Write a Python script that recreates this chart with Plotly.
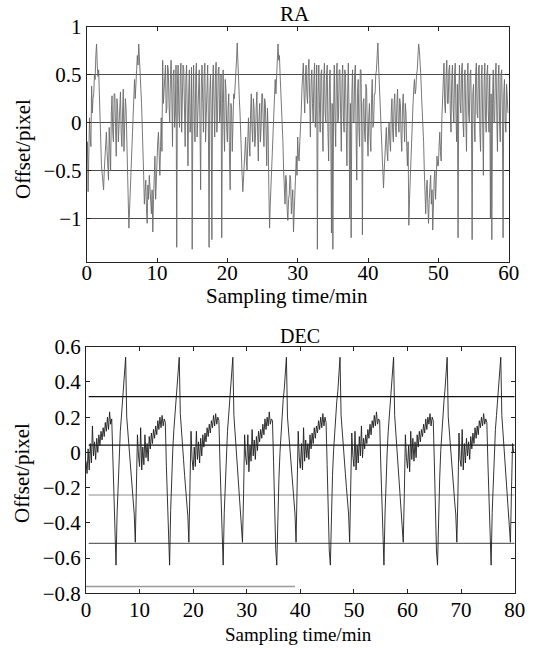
import plotly.graph_objects as go

# ---------------- data ----------------
ra_step_min = 0.1
ra_offset = [
    -0.4, -0.2, -0.72, -0.3, 0.05, -0.15, -0.25, 0.38, 0.1, 0.25,
    0.3, 0.5, 0.45, 0.7, 0.82, 0.6, 0.48, 0.55, 0.2, -0.1,
    -0.2, -0.45, -0.55, -0.65, -0.7, -0.5, -0.35, -0.2, -0.1, -0.3,
    -0.45, -0.6, -0.05, -0.25, -0.5, 0.1, 0.28, -0.1, -0.2, 0.3,
    0.3, -0.05, -0.35, 0.25, 0.15, -0.2, -0.05, 0.2, 0.32, -0.1,
    -0.25, 0.1, 0.35, -0.3, -0.1, 0.25, 0.15, -0.2, -0.6, -0.9,
    -1.1, -0.9, -0.7, -0.45, -0.25, -0.05, 0.15, 0.3, 0.45, 0.25,
    0.35, 0.55, 0.7, 0.6, 0.82, 0.7, 0.55, 0.35, 0.2, 0.0,
    -0.25, -0.55, -0.85, -0.7, -0.6, -0.9, -1.05, -0.65, -0.8, -0.55,
    -0.65, -0.85, -0.95, -0.7, -1.14, -0.8, -0.5, -0.35, -0.8, -0.55,
    -0.45, -0.2, -0.1, -0.4, -0.55, -0.25, 0.05, -0.3, 0.65, 0.2,
    0.35, 0.55, 0.6, 0.1, 0.15, 0.6, 0.55, 0.2, 0.0, 0.45,
    0.65, 0.3, -0.25, 0.5, 0.55, -0.05, 0.1, 0.6, -1.3, 0.4,
    0.6, 0.1, -0.05, 0.5, 0.62, -0.1, 0.2, 0.6, 0.55, 0.0,
    -0.25, 0.45, 0.6, 0.1, -0.45, 0.3, 0.55, -0.1, 0.0, 0.58,
    -1.32, 0.2, 0.6, 0.0, -0.2, 0.5, 0.62, -0.15, 0.1, 0.45,
    0.55, 0.0, -0.7, 0.4, 0.6, 0.2, -0.1, 0.5, 0.62, -0.2,
    0.1, 0.55, 0.6, 0.0, -1.3, 0.3, 0.5, 0.1, -1.22, 0.4,
    0.6, 0.2, -0.15, 0.5, 0.63, -0.1, 0.05, 0.55, 0.58, 0.0,
    0.1, 0.5, -1.2, 0.2, 0.55, 0.0, -0.3, 0.45, 0.35, -0.05,
    -0.2, 0.15, 0.3, -0.35, -0.7, 0.2, 0.15, -0.3, -0.1, 0.3,
    0.25, 0.45, 0.5, 0.65, 0.83, 0.55, 0.4, 0.25, 0.1, -0.2,
    -0.3, -0.55, -0.72, -0.6, -0.45, -0.25, -0.15, -0.4, -0.5, -0.2,
    0.05, -0.2, -0.35, 0.1, 0.3, -0.05, -0.2, 0.25, 0.15, -0.25,
    -0.15, 0.15, 0.32, -0.1, -0.4, 0.05, 0.2, -0.2, -0.05, 0.3,
    0.3, 0.0, -0.25, 0.25, 0.2, -0.1, -0.45, 0.15, -0.1, -0.7,
    -1.1, -0.85, -0.65, -0.4, -0.2, 0.0, 0.2, 0.35, 0.45, 0.3,
    0.55, 0.7, 0.82, 0.65, 0.7, 0.5, 0.35, 0.2, 0.05, -0.2,
    -0.5, -0.7, -0.85, -0.55, -0.6, -0.9, -1.02, -0.8, -0.75, -0.55,
    -0.6, -0.95, -0.85, -0.7, -1.14, -0.9, -0.7, -0.5, -0.35, -0.55,
    -0.15, -0.35, -0.4, -0.2, -0.1, 0.1, 0.35, 0.5, 0.62, 0.3,
    0.1, 0.5, 0.6, 0.3, 0.2, 0.55, 0.66, 0.25, -0.15, 0.4,
    0.55, 0.2, 0.0, 0.45, 0.62, -0.05, 0.1, 0.6, -1.32, 0.3,
    0.6, 0.15, -0.1, 0.5, 0.55, 0.0, -0.3, 0.45, 0.62, 0.1,
    0.0, 0.5, 0.6, -0.1, -0.4, 0.35, 0.55, 0.0, -1.15, 0.2,
    -1.32, 0.1, 0.6, 0.05, -0.25, 0.5, 0.62, 0.0, 0.05, 0.55,
    0.55, 0.1, -0.3, 0.45, 0.6, 0.05, -0.1, 0.55, 0.5, -0.05,
    -0.45, 0.3, 0.62, 0.1, -1.0, 0.2, -1.2, 0.3, 0.55, 0.0,
    0.0, 0.5, 0.6, -0.1, -0.6, 0.3, 0.45, -0.05, -0.25, 0.55,
    0.55, 0.0, -1.17, 0.2, 0.25, -0.1, -0.2, 0.4, 0.35, -0.1,
    -0.35, 0.05, 0.2, -0.15, -0.3, 0.25, 0.45, -0.05, 0.0, 0.3,
    0.3, 0.5, 0.55, 0.7, 0.83, 0.6, 0.4, 0.25, 0.05, -0.2,
    -0.45, -0.6, -0.68, -0.5, -0.35, -0.15, -0.05, -0.3, -0.4, -0.1,
    0.0, -0.2, -0.3, 0.1, 0.25, -0.1, -0.2, 0.2, 0.3, -0.05,
    -0.15, 0.2, 0.35, 0.0, -0.1, 0.25, 0.2, -0.15, -0.3, 0.15,
    0.3, 0.05, -0.2, 0.2, 0.1, -0.25, -0.45, -0.2, -1.07, -0.8,
    -0.55, -0.35, -0.2, 0.0, 0.2, 0.35, 0.45, 0.3, 0.35, 0.5,
    0.55, 0.7, 0.82, 0.75, 0.65, 0.5, 0.3, 0.15, 0.05, -0.2,
    -0.5, -0.75, -0.95, -0.7, -0.6, -0.85, -1.05, -0.8, -0.7, -0.55,
    -0.85, -0.7, -1.12, -0.8, -0.6, -0.5, -0.8, -0.6, -0.35, -0.45,
    -0.45, -0.25, -0.1, -0.3, -0.4, 0.05, 0.3, 0.5, 0.62, 0.2,
    0.1, 0.5, 0.65, 0.2, 0.2, 0.55, 0.6, 0.1, -0.1, 0.45,
    0.6, 0.15, 0.0, 0.5, 0.62, 0.1, -0.2, 0.4, -1.2, 0.3,
    0.6, 0.2, 0.1, 0.55, 0.62, 0.0, -0.15, 0.5, 0.55, 0.05,
    -0.3, 0.4, 0.62, 0.1, 0.0, 0.5, 0.55, 0.1, -1.22, 0.3,
    0.4, 0.0, -0.2, 0.5, 0.62, 0.1, 0.05, 0.55, 0.6, -0.1,
    -0.3, 0.45, 0.6, 0.0, -0.55, 0.4, 0.62, 0.05, -0.1, 0.5,
    0.6, 0.1, -0.1, 0.5, -1.0, 0.3, -1.22, 0.2, 0.55, 0.0,
    0.0, 0.5, 0.62, 0.1, -0.3, 0.45, 0.6, 0.0, -0.2, 0.5,
    0.55, 0.1, -1.2, 0.3, 0.45, 0.0, -0.1, 0.4, 0.3, 0.1,
]

dec_step_min = 0.2
dec_offset = [
    # 0-10 min
    -0.05, -0.12, 0.02, -0.1, 0.05, -0.06, 0.15, -0.02, 0.06, -0.04,
    0.08, 0.0, 0.1, 0.04, 0.12, 0.07, 0.14, 0.09, 0.17, 0.12,
    0.2, 0.13, 0.23, 0.16, 0.19, -0.05, -0.3, -0.55, -0.64, -0.35,
    -0.15, 0.0, 0.12, 0.2, 0.3, 0.35, 0.45, 0.54, 0.2, 0.12,
    0.05, -0.05, -0.12, -0.2, -0.28, -0.35, -0.51, -0.25, 0.1, -0.02,
    # 10-20 min
    -0.08, 0.14, -0.1, 0.03, -0.07, 0.1, -0.03, 0.05, -0.05, 0.09,
    0.02, 0.11, 0.05, 0.13, 0.08, 0.15, 0.1, 0.18, 0.13, 0.2,
    0.14, 0.21, 0.15, 0.19, 0.17, -0.08, -0.32, -0.55, -0.64, -0.33,
    -0.12, 0.02, 0.13, 0.21, 0.29, 0.36, 0.46, 0.54, 0.22, 0.11,
    0.04, -0.04, -0.13, -0.21, -0.29, -0.36, -0.51, -0.22, 0.12, -0.04,
    # 20-30 min
    -0.1, 0.03, -0.08, 0.12, -0.04, 0.06, -0.06, 0.08, -0.02, 0.1,
    0.03, 0.11, 0.06, 0.14, 0.09, 0.16, 0.11, 0.18, 0.14, 0.21,
    0.15, 0.22, 0.16, 0.2, 0.18, -0.06, -0.3, -0.56, -0.64, -0.34,
    -0.14, 0.01, 0.12, 0.2, 0.3, 0.35, 0.47, 0.54, 0.21, 0.12,
    0.05, -0.05, -0.12, -0.2, -0.28, -0.36, -0.51, -0.24, 0.1, -0.03,
    # 30-40 min
    -0.07, 0.1, -0.11, 0.04, -0.05, 0.13, -0.02, 0.07, -0.04, 0.09,
    0.01, 0.12, 0.06, 0.13, 0.08, 0.16, 0.1, 0.19, 0.13, 0.2,
    0.15, 0.23, 0.16, 0.19, 0.18, -0.05, -0.31, -0.55, -0.64, -0.36,
    -0.15, 0.0, 0.11, 0.21, 0.3, 0.36, 0.46, 0.54, 0.2, 0.12,
    0.04, -0.05, -0.12, -0.21, -0.28, -0.35, -0.51, -0.25, 0.12, -0.03,
    # 40-50 min
    -0.09, 0.05, -0.1, 0.14, -0.05, 0.07, -0.03, 0.05, -0.04, 0.1,
    0.02, 0.11, 0.05, 0.14, 0.08, 0.15, 0.11, 0.18, 0.13, 0.2,
    0.14, 0.22, 0.15, 0.2, 0.17, -0.07, -0.32, -0.56, -0.64, -0.34,
    -0.13, 0.01, 0.13, 0.2, 0.29, 0.35, 0.46, 0.54, 0.21, 0.11,
    0.05, -0.04, -0.12, -0.2, -0.29, -0.35, -0.51, -0.23, 0.11, -0.02,
    # 50-60 min
    -0.08, 0.12, -0.1, 0.04, -0.06, 0.09, -0.02, 0.15, -0.03, 0.08,
    0.02, 0.1, 0.05, 0.13, 0.08, 0.16, 0.1, 0.18, 0.14, 0.21,
    0.15, 0.23, 0.16, 0.19, 0.18, -0.06, -0.3, -0.55, -0.64, -0.35,
    -0.14, 0.0, 0.12, 0.21, 0.3, 0.35, 0.45, 0.54, 0.21, 0.12,
    0.05, -0.05, -0.13, -0.2, -0.28, -0.36, -0.51, -0.24, 0.1, -0.03,
    # 60-70 min
    -0.09, 0.04, -0.11, 0.12, -0.04, 0.08, -0.05, 0.06, -0.03, 0.1,
    0.03, 0.12, 0.06, 0.13, 0.09, 0.16, 0.11, 0.19, 0.13, 0.2,
    0.16, 0.22, 0.15, 0.2, 0.18, -0.05, -0.31, -0.56, -0.64, -0.33,
    -0.15, 0.01, 0.12, 0.2, 0.29, 0.36, 0.46, 0.54, 0.2, 0.11,
    0.04, -0.05, -0.12, -0.21, -0.28, -0.35, -0.51, -0.25, 0.11, -0.04,
    # 70-80 min
    -0.08, 0.13, -0.1, 0.05, -0.06, 0.08, -0.02, 0.06, -0.04, 0.09,
    0.02, 0.11, 0.05, 0.14, 0.08, 0.15, 0.1, 0.18, 0.14, 0.2,
    0.15, 0.22, 0.16, 0.19, 0.17, -0.06, -0.3, -0.55, -0.64, -0.34,
    -0.14, 0.0, 0.13, 0.21, 0.3, 0.35, 0.46, 0.54, 0.21, 0.12,
    0.05, -0.04, -0.12, -0.2, -0.29, -0.36, -0.51, -0.22, 0.05, 0.0,
]

dec_levels = [0.317, 0.041, -0.242, -0.516]
dec_level_colors = ["#111111", "#111111", "#8c8c8c", "#666666"]
dec_bottom_level = -0.761
dec_bottom_level_end = 39

ra_xticks = [0, 10, 20, 30, 40, 50, 60]
ra_yticks = [-1, -0.5, 0, 0.5, 1]
dec_xticks = [0, 10, 20, 30, 40, 50, 60, 70, 80]
dec_yticks = [-0.8, -0.6, -0.4, -0.2, 0, 0.2, 0.4, 0.6]

# ---------------- figure ----------------
W, H = 544, 648
FONT = "Liberation Serif"

ra_t = [i * ra_step_min for i in range(len(ra_offset))]
dec_t = [i * dec_step_min for i in range(len(dec_offset))]

fig = go.Figure()
fig.add_trace(go.Scatter(x=ra_t, y=ra_offset, mode="lines",
                         line=dict(color="#6a6a6a", width=0.9),
                         xaxis="x", yaxis="y", showlegend=False))

for lv, c in zip(dec_levels, dec_level_colors):
    fig.add_trace(go.Scatter(x=[0.5, 80], y=[lv, lv], mode="lines",
                             line=dict(color=c, width=1.2),
                             xaxis="x2", yaxis="y2", showlegend=False))
fig.add_trace(go.Scatter(x=[0, dec_bottom_level_end], y=[dec_bottom_level, dec_bottom_level],
                         mode="lines", line=dict(color="#9a9a9a", width=1.5),
                         xaxis="x2", yaxis="y2", showlegend=False))
fig.add_trace(go.Scatter(x=dec_t, y=dec_offset, mode="lines",
                         line=dict(color="#1e1e1e", width=0.9),
                         xaxis="x2", yaxis="y2", showlegend=False))

def px_x(p):
    return p / W

def px_y(p):
    return 1 - p / H

axis_common = dict(ticks="inside", ticklen=4, tickcolor="#222", showline=True,
                   linecolor="#222", linewidth=1, mirror="ticks", zeroline=False,
                   automargin=False,
                   tickfont=dict(family=FONT, size=21, color="black"))

fig.update_layout(
    width=W, height=H, margin=dict(l=0, r=0, t=0, b=0, autoexpand=False),
    paper_bgcolor="white", plot_bgcolor="white",
    font=dict(family=FONT),
    xaxis=dict(domain=[px_x(86.7), px_x(508.7)], range=[0, 60], tickvals=ra_xticks,
               showgrid=False, anchor="y", ticklabelstandoff=-8, **axis_common),
    yaxis=dict(domain=[px_y(261.7), px_y(26.7)], range=[-1.45, 1.0], tickvals=ra_yticks,
               showgrid=True, gridcolor="#4a4a4a", gridwidth=1, anchor="x", **axis_common),
    xaxis2=dict(domain=[px_x(86), px_x(514.7)], range=[0, 80], tickvals=dec_xticks,
                showgrid=False, anchor="y2", ticklabelstandoff=-3, **axis_common),
    yaxis2=dict(domain=[px_y(593.3), px_y(346.7)], range=[-0.8, 0.6], tickvals=dec_yticks,
                showgrid=False, anchor="x2", **axis_common),
)

def ann(text, x, y, size, angle=0):
    fig.add_annotation(text=text, x=px_x(x), y=px_y(y), xref="paper", yref="paper",
                       showarrow=False, textangle=angle, xanchor="center", yanchor="middle",
                       font=dict(family=FONT, size=size, color="black"))

ann("RA", 295, 14, 21)
ann("Sampling time/min", 287, 296, 21)
ann("Offset/pixel", 23, 149, 21, -90)
ann("DEC", 300, 336, 20)
ann("Sampling time/min", 298.5, 634, 19)
ann("Offset/pixel", 22, 473, 21, -90)

fig.write_html("out.html", config={"displayModeBar": False},
               post_script="document.body.style.margin='0px';document.body.style.overflow='hidden';")
